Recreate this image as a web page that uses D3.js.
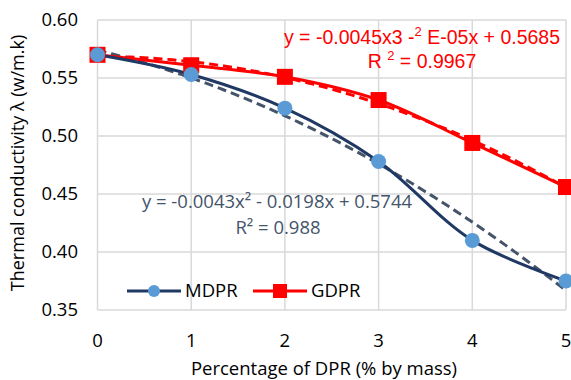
<!DOCTYPE html>
<html>
<head>
<meta charset="utf-8">
<script src="https://cdn.jsdelivr.net/npm/d3@7"></script>
<style>
  body { margin: 0; background: #fff; }
  svg { display: block; }
</style>
</head>
<body>
<div id="chart"></div>
<script>
// data
const percent = [0, 1, 2, 3, 4, 5];
const mdpr = [0.570, 0.553, 0.524, 0.478, 0.410, 0.375];
const gdpr = [0.570, 0.561, 0.551, 0.531, 0.494, 0.456];
const xTicks = [0, 1, 2, 3, 4, 5];
const yTicks = [0.35, 0.40, 0.45, 0.50, 0.55, 0.60];

const W = 571, H = 380;
const margin = {top: 20, right: 5, bottom: 70, left: 97.5};

const svg = d3.select("#chart").append("svg")
    .attr("width", W)
    .attr("height", H);

const x = d3.scaleLinear().domain([0, 5]).range([margin.left, 566]);
const y = d3.scaleLinear().domain([0.35, 0.60]).range([310, 20]);

const font = "'Open Sans', sans-serif";

// least squares polynomial fit (what the trendline shows)
function polyFit(xs, ys, order) {
    const n = order + 1;
    const A = [];
    for (let i = 0; i < n; i++) {
        A.push([]);
        for (let j = 0; j < n; j++) A[i].push(d3.sum(xs, v => Math.pow(v, i + j)));
        A[i].push(d3.sum(xs, (v, k) => Math.pow(v, i) * ys[k]));
    }
    for (let c = 0; c < n; c++) {
        for (let r = c + 1; r < n; r++) {
            const f = A[r][c] / A[c][c];
            for (let k = c; k <= n; k++) A[r][k] -= f * A[c][k];
        }
    }
    const coef = new Array(n).fill(0);
    for (let r = n - 1; r >= 0; r--) {
        let s = A[r][n];
        for (let k = r + 1; k < n; k++) s -= A[r][k] * coef[k];
        coef[r] = s / A[r][r];
    }
    return coef;
}

// gridlines
svg.append("g").selectAll("line")
    .data(yTicks)
    .enter().append("line")
    .attr("x1", x(0)).attr("x2", x(5))
    .attr("y1", d => y(d)).attr("y2", d => y(d))
    .attr("stroke", "#d9d9d9")
    .attr("stroke-width", 1.5);

svg.append("g").selectAll("line")
    .data(xTicks)
    .enter().append("line")
    .attr("x1", d => x(d)).attr("x2", d => x(d))
    .attr("y1", y(0.35)).attr("y2", y(0.60))
    .attr("stroke", "#d9d9d9")
    .attr("stroke-width", 1.5);

// tick labels
svg.append("g").selectAll("text")
    .data(yTicks)
    .enter().append("text")
    .attr("x", 78)
    .attr("y", d => y(d))
    .attr("dy", "0.35em")
    .attr("text-anchor", "end")
    .style("font-family", font)
    .style("font-size", "18.5px")
    .attr("fill", "#000")
    .text(d => d.toFixed(2));

svg.append("g").selectAll("text")
    .data(xTicks)
    .enter().append("text")
    .attr("x", d => x(d))
    .attr("y", 347)
    .attr("text-anchor", "middle")
    .style("font-family", font)
    .style("font-size", "18.5px")
    .attr("fill", "#000")
    .text(d => d);

// axis titles
svg.append("text")
    .attr("x", 324)
    .attr("y", 375)
    .attr("text-anchor", "middle")
    .style("font-family", font)
    .style("font-size", "18.5px")
    .text("Percentage of DPR (% by mass)");

svg.append("text")
    .attr("transform", "translate(24,163) rotate(-90)")
    .attr("text-anchor", "middle")
    .style("font-family", font)
    .style("font-size", "18px")
    .text("Thermal conductivity λ (w/m.k)");

// trendlines
const trendX = d3.range(0, 5.001, 0.05);
function trendPoints(vals) {
    const c = polyFit(percent, vals, 2);
    return trendX.map(t => [t, c[0] + c[1] * t + c[2] * t * t]);
}

const trendLine = d3.line()
    .x(d => x(d[0]))
    .y(d => y(d[1]));

svg.append("path")
    .datum(trendPoints(gdpr))
    .attr("d", trendLine)
    .attr("fill", "none")
    .attr("stroke", "#ff0000")
    .attr("stroke-width", 3)
    .attr("stroke-dasharray", "9,5");

svg.append("path")
    .datum(trendPoints(mdpr))
    .attr("d", trendLine)
    .attr("fill", "none")
    .attr("stroke", "#44546a")
    .attr("stroke-width", 3)
    .attr("stroke-dasharray", "9,5");

// series lines (smoothed)
const line = d3.line()
    .x((d, i) => x(percent[i]))
    .y(d => y(d))
    .curve(d3.curveCatmullRom.alpha(0.5));

svg.append("path")
    .datum(gdpr)
    .attr("d", line)
    .attr("fill", "none")
    .attr("stroke", "#ff0000")
    .attr("stroke-width", 3);

svg.append("path")
    .datum(mdpr)
    .attr("d", line)
    .attr("fill", "none")
    .attr("stroke", "#203864")
    .attr("stroke-width", 3);

// markers
svg.append("g").selectAll("rect")
    .data(gdpr)
    .enter().append("rect")
    .attr("x", (d, i) => x(percent[i]) - 8)
    .attr("y", d => y(d) - 8)
    .attr("width", 16)
    .attr("height", 16)
    .attr("fill", "#ff0000");

svg.append("g").selectAll("circle")
    .data(mdpr)
    .enter().append("circle")
    .attr("cx", (d, i) => x(percent[i]))
    .attr("cy", d => y(d))
    .attr("r", 7.5)
    .attr("fill", "#5b9bd5");

// trendline equations
const eqM = svg.append("text")
    .attr("text-anchor", "middle")
    .style("font-family", font)
    .style("font-size", "18.5px")
    .attr("fill", "#44546a");
eqM.append("tspan").attr("x", 277).attr("y", 208).text("y = -0.0043x² - 0.0198x + 0.5744");
eqM.append("tspan").attr("x", 278).attr("y", 234).text("R² = 0.988");

const eqG = svg.append("text")
    .attr("text-anchor", "middle")
    .style("font-family", "'Liberation Sans', Arial, sans-serif")
    .style("font-size", "19.5px")
    .attr("fill", "#ff0000");
const g1 = eqG.append("tspan").attr("x", 422).attr("y", 44);
g1.append("tspan").text("y = -0.0045x3 -");
g1.append("tspan").attr("dy", -8).style("font-size", "13px").text("2");
g1.append("tspan").attr("dy", 8).text(" E-05x + 0.5685");
const g2 = eqG.append("tspan").attr("x", 422).attr("y", 68);
g2.append("tspan").text("R ");
g2.append("tspan").attr("dy", -8).style("font-size", "13px").text("2");
g2.append("tspan").attr("dy", 8).text(" = 0.9967");

// legend
const legend = [
    {name: "MDPR", color: "#203864", marker: "circle", x0: 127},
    {name: "GDPR", color: "#ff0000", marker: "rect", x0: 253}
];
const ly = 291;
legend.forEach(l => {
    const g = svg.append("g");
    g.append("line")
        .attr("x1", l.x0).attr("x2", l.x0 + 54)
        .attr("y1", ly).attr("y2", ly)
        .attr("stroke", l.color)
        .attr("stroke-width", 3);
    if (l.marker === "circle") {
        g.append("circle").attr("cx", l.x0 + 27).attr("cy", ly).attr("r", 6).attr("fill", "#5b9bd5");
    } else {
        g.append("rect").attr("x", l.x0 + 20).attr("y", ly - 7).attr("width", 14).attr("height", 14).attr("fill", "#ff0000");
    }
    g.append("text")
        .attr("x", l.x0 + 58)
        .attr("y", ly)
        .attr("dy", "0.35em")
        .style("font-family", font)
        .style("font-size", "18.5px")
        .text(l.name);
});
</script>
</body>
</html>
